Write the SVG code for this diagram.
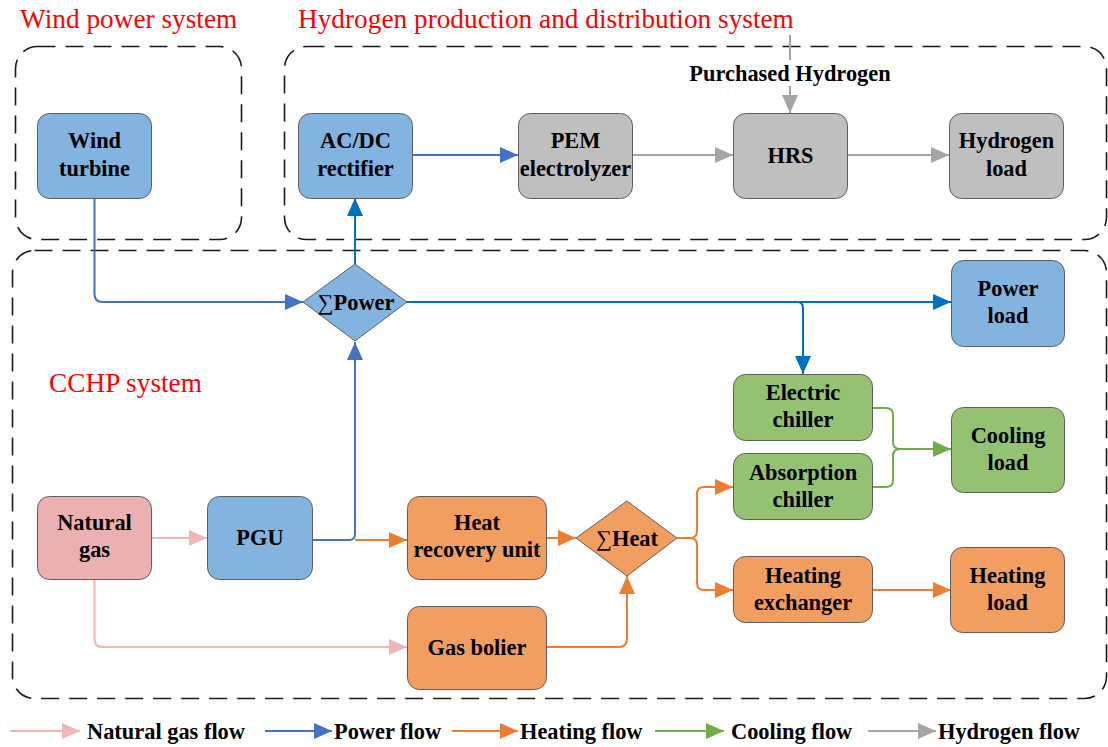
<svg xmlns="http://www.w3.org/2000/svg" width="1108" height="747" viewBox="0 0 1108 747">
  <style>
    .sys { fill: none; stroke: #1a1a1a; stroke-width: 1.6; stroke-dasharray: 18 10; }
    .title { font-family: "Liberation Serif", "Times New Roman", serif; font-size: 27.3px; fill: #ff0000; }
    .lbl { font-family: "Liberation Serif", "Times New Roman", serif; font-size: 22.4px; font-weight: bold; fill: #000; text-anchor: middle; }
    .leg { font-family: "Liberation Serif", "Times New Roman", serif; font-size: 22.4px; font-weight: bold; fill: #000; }
    .box { stroke: #5f5f5f; stroke-width: 1; }
    .blue { fill: #83B3DF; }
    .gray { fill: #BFBFBF; }
    .green { fill: #93C372; }
    .orange { fill: #F29E61; }
    .pink { fill: #EBB1B1; }
    .c { fill: none; stroke-width: 2; stroke-linejoin: round; }
    .gas { stroke: #F2B5B5; marker-end: url(#aGas); }
    .pw { stroke: #4472C4; marker-end: url(#aPw); }
    .pw2 { stroke: #0070C0; marker-end: url(#aPw2); }
    .ht { stroke: #ED7D31; marker-end: url(#aHt); }
    .cl { stroke: #70AD47; }
    .h2 { stroke: #A5A5A5; marker-end: url(#aH2); }
  </style>
  <defs>
    <marker id="aGas" markerUnits="userSpaceOnUse" markerWidth="18" markerHeight="16" refX="18" refY="8" orient="auto"><path d="M0,0 L18,8 L0,16 Z" fill="#F2B5B5"/></marker>
    <marker id="aPw" markerUnits="userSpaceOnUse" markerWidth="18" markerHeight="16" refX="18" refY="8" orient="auto"><path d="M0,0 L18,8 L0,16 Z" fill="#4472C4"/></marker>
    <marker id="aPw2" markerUnits="userSpaceOnUse" markerWidth="18" markerHeight="16" refX="18" refY="8" orient="auto"><path d="M0,0 L18,8 L0,16 Z" fill="#0070C0"/></marker>
    <marker id="aHt" markerUnits="userSpaceOnUse" markerWidth="18" markerHeight="16" refX="18" refY="8" orient="auto"><path d="M0,0 L18,8 L0,16 Z" fill="#ED7D31"/></marker>
    <marker id="aCl" markerUnits="userSpaceOnUse" markerWidth="18" markerHeight="16" refX="18" refY="8" orient="auto"><path d="M0,0 L18,8 L0,16 Z" fill="#70AD47"/></marker>
    <marker id="aH2" markerUnits="userSpaceOnUse" markerWidth="18" markerHeight="16" refX="18" refY="8" orient="auto"><path d="M0,0 L18,8 L0,16 Z" fill="#A5A5A5"/></marker>
  </defs>

  <rect width="1108" height="747" fill="#ffffff"/>

  <!-- subsystem frames -->
  <g id="systems">
    <rect class="sys" x="15.5" y="46.5" width="226" height="193" rx="22"/>
    <rect class="sys" x="284.5" y="46.5" width="822" height="193" rx="22"/>
    <rect class="sys" x="12.5" y="250.5" width="1094" height="448" rx="22"/>
    <text class="title" x="20" y="28">Wind power system</text>
    <text class="title" x="298" y="28">Hydrogen production and distribution system</text>
    <text class="title" x="49" y="392">CCHP system</text>
  </g>

  <!-- flows -->
  <g id="connectors">
    <!-- hydrogen purchase -->
    <path class="c" d="M790,35 V60" stroke="#A5A5A5"/>
    <path class="c h2" d="M790,86 V113"/>
    <!-- wind to power bus -->
    <path class="c pw" d="M94.5,198 V294 Q94.5,302 102.5,302 H303"/>
    <!-- power bus to rectifier -->
    <path class="c pw2" d="M355,264 V198"/>
    <!-- rectifier to electrolyzer -->
    <path class="c pw" d="M412,155 H518"/>
    <path class="c h2" d="M632,155 H733"/>
    <path class="c h2" d="M847,155 H949"/>
    <!-- power bus to loads -->
    <path class="c pw2" d="M407,302 H951"/>
    <path class="c pw2" d="M797,302 Q803,302 803,308 V374"/>
    <!-- PGU power -->
    <path class="c pw" d="M312,540 H349 Q355,540 355,534 V342"/>
    <!-- PGU heat -->
    <path class="c ht" d="M355,540 H407"/>
    <!-- natural gas -->
    <path class="c gas" d="M151,538 H207"/>
    <path class="c gas" d="M94.5,580 V639 Q94.5,647 102.5,647 H407"/>
    <!-- heat collection -->
    <path class="c ht" d="M546,538 H576"/>
    <path class="c ht" d="M546,647 H619 Q627,647 627,639 V576"/>
    <!-- heat distribution -->
    <path class="c ht" d="M677,538 H690 Q697,538 697,531 V494 Q697,487 704,487 H733"/>
    <path class="c ht" d="M690,538 Q697,538 697,545 V583 Q697,590 704,590 H733"/>
    <path class="c ht" d="M872,590 H951"/>
    <!-- cooling -->
    <path class="c cl" d="M872,408 H886 Q893,408 893,415 V442 Q893,449 900,449"/>
    <path class="c cl" d="M872,487 H886 Q893,487 893,480 V456 Q893,449 900,449"/>
    <path class="c cl" d="M900,449 H951" marker-end="url(#aCl)"/>
  </g>

  <g id="wind-turbine">
    <rect class="box blue" x="37.5" y="113.5" width="114" height="85" rx="12"/>
    <text class="lbl" x="94.5" y="148">Wind</text>
    <text class="lbl" x="94.5" y="176">turbine</text>
  </g>
  <g id="rectifier">
    <rect class="box blue" x="298.5" y="113.5" width="114" height="85" rx="12"/>
    <text class="lbl" x="355.5" y="148">AC/DC</text>
    <text class="lbl" x="355.5" y="176">rectifier</text>
  </g>
  <g id="electrolyzer">
    <rect class="box gray" x="518.5" y="113.5" width="114" height="85" rx="12"/>
    <text class="lbl" x="575.5" y="148">PEM</text>
    <text class="lbl" x="575.5" y="176">electrolyzer</text>
  </g>
  <g id="hrs">
    <rect class="box gray" x="733.5" y="113.5" width="114" height="85" rx="12"/>
    <text class="lbl" x="790.5" y="163">HRS</text>
  </g>
  <g id="hydrogen-load">
    <rect class="box gray" x="949.5" y="113.5" width="114" height="85" rx="12"/>
    <text class="lbl" x="1006.5" y="148">Hydrogen</text>
    <text class="lbl" x="1006.5" y="176">load</text>
  </g>
  <g id="purchased-hydrogen">
    <text class="lbl" x="790" y="81">Purchased Hydrogen</text>
  </g>

  <g id="power-bus">
    <polygon class="box blue" points="303,302 355,264 407,302 355,341"/>
    <text class="lbl" x="356" y="310"><tspan font-weight="normal">∑</tspan>Power</text>
  </g>
  <g id="power-load">
    <rect class="box blue" x="951.5" y="260.5" width="113" height="86" rx="12"/>
    <text class="lbl" x="1008" y="296">Power</text>
    <text class="lbl" x="1008" y="323">load</text>
  </g>
  <g id="electric-chiller">
    <rect class="box green" x="733.5" y="374.5" width="139" height="66" rx="12"/>
    <text class="lbl" x="803" y="400">Electric</text>
    <text class="lbl" x="803" y="427">chiller</text>
  </g>
  <g id="absorption-chiller">
    <rect class="box green" x="733.5" y="453.5" width="139" height="66" rx="12"/>
    <text class="lbl" x="803" y="480">Absorption</text>
    <text class="lbl" x="803" y="507">chiller</text>
  </g>
  <g id="cooling-load">
    <rect class="box green" x="951.5" y="407.5" width="113" height="85" rx="12"/>
    <text class="lbl" x="1008" y="443">Cooling</text>
    <text class="lbl" x="1008" y="470">load</text>
  </g>

  <g id="natural-gas">
    <rect class="box pink" x="37.5" y="496.5" width="114" height="83" rx="12"/>
    <text class="lbl" x="94.5" y="530">Natural</text>
    <text class="lbl" x="94.5" y="557">gas</text>
  </g>
  <g id="pgu">
    <rect class="box blue" x="207.5" y="496.5" width="105" height="83" rx="12"/>
    <text class="lbl" x="260" y="545">PGU</text>
  </g>
  <g id="heat-recovery">
    <rect class="box orange" x="407.5" y="496.5" width="139" height="83" rx="12"/>
    <text class="lbl" x="477" y="530">Heat</text>
    <text class="lbl" x="477" y="557">recovery unit</text>
  </g>
  <g id="gas-boiler">
    <rect class="box orange" x="407.5" y="606.5" width="139" height="83" rx="12"/>
    <text class="lbl" x="477" y="655">Gas bolier</text>
  </g>
  <g id="heat-bus">
    <polygon class="box orange" points="576,538 627,501 677,538 627,576"/>
    <text class="lbl" x="627" y="546"><tspan font-weight="normal">∑</tspan>Heat</text>
  </g>
  <g id="heating-exchanger">
    <rect class="box orange" x="733.5" y="556.5" width="139" height="66" rx="12"/>
    <text class="lbl" x="803" y="583">Heating</text>
    <text class="lbl" x="803" y="610">exchanger</text>
  </g>
  <g id="heating-load">
    <rect class="box orange" x="950.5" y="547.5" width="114" height="85" rx="12"/>
    <text class="lbl" x="1007.5" y="583">Heating</text>
    <text class="lbl" x="1007.5" y="610">load</text>
  </g>

  <g id="legend">
    <path class="c gas" d="M10,731 H80"/>
    <text class="leg" x="87" y="739">Natural gas flow</text>
    <path class="c pw" d="M265,731 H332"/>
    <text class="leg" x="334" y="739">Power flow</text>
    <path class="c ht" d="M452,731 H518"/>
    <text class="leg" x="520" y="739">Heating flow</text>
    <path class="c cl" d="M655,731 H724" marker-end="url(#aCl)"/>
    <text class="leg" x="731" y="739">Cooling flow</text>
    <path class="c h2" d="M868,731 H936"/>
    <text class="leg" x="938" y="739">Hydrogen flow</text>
  </g>
</svg>
